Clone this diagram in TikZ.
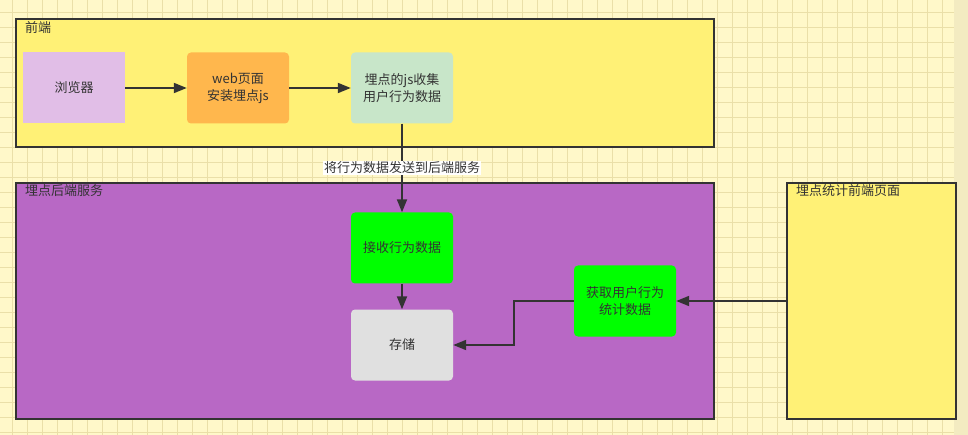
\documentclass[tikz,border=0pt]{standalone}
\usepackage{fontspec}
\setmainfont{Noto Sans CJK SC}
\usetikzlibrary{arrows.meta}
\definecolor{paper}{HTML}{FFF8C9}
\definecolor{gridcol}{HTML}{EADFA8}
\definecolor{stripcol}{HTML}{F3EBC1}
\definecolor{ink}{HTML}{333333}
\definecolor{frontfill}{HTML}{FFF176}
\definecolor{backfill}{HTML}{B868C5}
\definecolor{browserfill}{HTML}{E1BEE7}
\definecolor{webfill}{HTML}{FFB74D}
\definecolor{jsfill}{HTML}{C8E6C9}
\definecolor{greenfill}{HTML}{00FF00}
\definecolor{storefill}{HTML}{E0E0E0}
\tikzset{
  group/.style={draw=ink, line width=2pt, inner sep=0pt},
  tag/.style={anchor=west, inner sep=0pt, text=ink},
  box/.style={minimum width=102pt, minimum height=71pt, inner sep=0pt, align=center, text=ink},
  flow/.style={draw=ink, line width=1.8pt, -{Triangle[length=13pt,width=10pt]}},
}
\begin{document}
\begin{tikzpicture}[x=1pt,y=-1pt,font=\fontsize{13}{17}\selectfont]
        %% paper
        \useasboundingbox (0,0) rectangle (968,435);
        \fill[paper] (0,0) rectangle (968,435);
        \foreach \gx in {12.5,27.5,...,957.5} \draw[gridcol,line width=1.2pt] (\gx,0) -- (\gx,435);
        \foreach \gy in {12.5,27.5,...,432.5} \draw[gridcol,line width=1.2pt] (0,\gy) -- (968,\gy);
        \fill[stripcol] (954,0) rectangle (968,435);
        %% groups
        \node[group, fill=frontfill, minimum width=698pt, minimum height=128pt] (front) at (365,83) {};
        \node[group, fill=backfill, minimum width=698pt, minimum height=236pt] (back) at (365,301) {};
        \node[group, fill=frontfill, minimum width=169pt, minimum height=236pt] (stats) at (871.5,301) {};
        \node[tag] (frontlbl) at ([xshift=10pt,yshift=-10pt]front.north west) {前端};
        \node[tag] (backlbl) at ([xshift=10pt,yshift=-9pt]back.north west) {埋点后端服务};
        \node[tag] (statslbl) at ([xshift=10pt,yshift=-9pt]stats.north west) {埋点统计前端页面};
        %% front end
        \node[box, fill=browserfill] (browser) at (74,88) {浏览器};
        \node[box, fill=webfill, rounded corners=4pt] (web) at (238,88) {web页面\\安装埋点js};
        \node[box, fill=jsfill, rounded corners=4pt] (collect) at (402,88) {埋点的js收集\\用户行为数据};
        %% back end
        \node[box, fill=greenfill, rounded corners=4pt] (receive) at (402,248) {接收行为数据};
        \node[box, fill=storefill, rounded corners=4pt] (store) at (402,345) {存储};
        \node[box, fill=greenfill, rounded corners=4pt] (fetch) at (625,301) {获取用户行为\\统计数据};
        %% flows
        \draw[flow] (browser) -- (web);
        \draw[flow] (web) -- (collect);
        \draw[flow] (collect) -- node[fill=white, inner sep=1pt, text=ink] (sendlbl) {将行为数据发送到后端服务} (receive);
        \draw[flow] (receive) -- (store);
        \draw[flow] (stats.west) -- (fetch.east);
        \draw[flow] (fetch.west) -- ++(-60,0) |- (store.east);
    \end{tikzpicture}
\end{document}
